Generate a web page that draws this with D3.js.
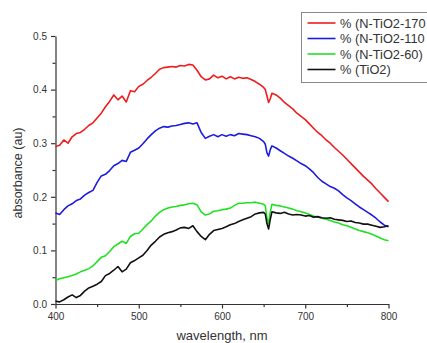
<!DOCTYPE html>
<html>
<head>
<meta charset="utf-8">
<script src="https://cdn.jsdelivr.net/npm/d3@7"></script>
<style>
  body { margin: 0; background: #fff; }
  svg { display: block; font-family: "Liberation Sans", Arial, sans-serif; }
  .axis path, .axis line { stroke: #333; }
  .axis text { fill: #333; font-size: 10px; }
</style>
</head>
<body>
<div id="chart"></div>
<script>
// wavelength grid (nm)
const wavelength = [
  400,405,410,415,420,425,430,435,440,445,450,455,460,465,470,475,480,485,490,495,
  500,505,510,515,520,525,530,535,540,545,550,555,560,565,570,575,580,585,590,595,
  600,605,610,615,620,625,630,635,640,645,650,652,654,656,658,660,
  665,670,675,680,685,690,695,700,705,710,715,720,725,730,735,740,745,750,755,760,
  765,770,775,780,785,790,795,800
];

const nTiO2_170 = [
  0.294,0.296,0.306,0.300,0.312,0.318,0.320,0.326,0.333,0.338,0.347,0.356,0.368,0.378,0.390,0.381,0.388,0.377,0.398,0.396,
  0.406,0.410,0.417,0.423,0.430,0.438,0.441,0.442,0.443,0.442,0.445,0.444,0.447,0.446,0.436,0.424,0.418,0.420,0.427,0.422,
  0.425,0.420,0.424,0.420,0.423,0.421,0.422,0.419,0.415,0.410,0.404,0.400,0.388,0.376,0.383,0.393,
  0.390,0.384,0.376,0.370,0.364,0.356,0.350,0.344,0.336,0.328,0.320,0.314,0.306,0.300,0.292,0.285,0.278,0.270,0.262,0.254,
  0.246,0.238,0.231,0.224,0.215,0.207,0.199,0.191
];

const nTiO2_110 = [
  0.170,0.167,0.176,0.183,0.187,0.193,0.196,0.203,0.208,0.212,0.227,0.239,0.242,0.249,0.258,0.262,0.268,0.266,0.283,0.287,
  0.291,0.299,0.308,0.316,0.323,0.328,0.331,0.330,0.332,0.333,0.335,0.337,0.338,0.336,0.338,0.320,0.309,0.313,0.316,0.312,
  0.316,0.313,0.316,0.314,0.318,0.317,0.316,0.314,0.312,0.309,0.303,0.298,0.282,0.276,0.288,0.295,
  0.291,0.286,0.281,0.276,0.272,0.267,0.262,0.258,0.252,0.245,0.236,0.229,0.224,0.219,0.216,0.211,0.204,0.198,0.193,0.187,
  0.181,0.176,0.171,0.166,0.160,0.153,0.147,0.144
];

const nTiO2_60 = [
  0.044,0.047,0.049,0.051,0.053,0.056,0.060,0.063,0.066,0.071,0.079,0.087,0.090,0.098,0.107,0.112,0.117,0.113,0.126,0.131,
  0.132,0.140,0.148,0.155,0.164,0.171,0.176,0.179,0.181,0.182,0.184,0.185,0.187,0.188,0.185,0.172,0.166,0.168,0.173,0.174,
  0.176,0.177,0.179,0.184,0.188,0.188,0.189,0.189,0.190,0.188,0.186,0.183,0.160,0.150,0.172,0.186,
  0.184,0.183,0.181,0.179,0.177,0.174,0.172,0.170,0.167,0.164,0.162,0.160,0.158,0.156,0.153,0.151,0.148,0.146,0.143,0.140,
  0.137,0.135,0.133,0.130,0.127,0.123,0.120,0.118
];

const tiO2 = [
  0.005,0.004,0.008,0.013,0.017,0.012,0.016,0.024,0.030,0.033,0.037,0.042,0.053,0.057,0.063,0.070,0.060,0.065,0.077,0.081,
  0.086,0.091,0.100,0.110,0.117,0.125,0.130,0.133,0.135,0.138,0.142,0.143,0.141,0.146,0.135,0.126,0.120,0.130,0.137,0.139,
  0.141,0.144,0.148,0.150,0.154,0.157,0.160,0.163,0.168,0.170,0.171,0.168,0.150,0.140,0.158,0.172,
  0.170,0.169,0.171,0.168,0.166,0.167,0.166,0.164,0.165,0.162,0.163,0.161,0.160,0.161,0.158,0.157,0.156,0.154,0.155,0.152,
  0.151,0.149,0.149,0.147,0.145,0.143,0.144,0.146
];

const seriesNames = ["% (N-TiO2-170", "% (N-TiO2-110", "% (N-TiO2-60)", "% (TiO2)"];
const seriesColors = ["#ee1c1c", "#1c1cdd", "#22e022", "#111111"];
const seriesValues = [nTiO2_170, nTiO2_110, nTiO2_60, tiO2];

const xTicks = [400, 500, 600, 700, 800];
const xMinor = [450, 550, 650, 750];
const yTicks = [0, 0.1, 0.2, 0.3, 0.4, 0.5];
const yMinor = [0.05, 0.15, 0.25, 0.35, 0.45];

const width = 427, height = 343;

//create canvas
const svg = d3.select("#chart")
    .append("svg")
    .attr("width", width)
    .attr("height", height);

const x = d3.scaleLinear().domain([400, 800]).range([55.5, 388.5]);
const y = d3.scaleLinear().domain([0, 0.5]).range([304, 36]);

// minor ticks first, so the major axis draws over them
svg.append("g")
    .attr("class", "axis")
    .attr("transform", "translate(0,304)")
    .call(d3.axisBottom(x).tickValues(xMinor).tickSize(3).tickSizeOuter(0).tickFormat(""))
    .call(g => g.select(".domain").remove());

svg.append("g")
    .attr("class", "axis")
    .attr("transform", "translate(55.5,0)")
    .call(d3.axisLeft(y).tickValues(yMinor).tickSize(3).tickSizeOuter(0).tickFormat(""))
    .call(g => g.select(".domain").remove());

svg.append("g")
    .attr("class", "axis")
    .attr("transform", "translate(0,304)")
    .call(d3.axisBottom(x).tickValues(xTicks).tickSize(4.5).tickSizeOuter(0).tickPadding(4));

svg.append("g")
    .attr("class", "axis")
    .attr("transform", "translate(55.5,0)")
    .call(d3.axisLeft(y).tickValues(yTicks).tickSize(4.5).tickSizeOuter(0).tickPadding(4)
        .tickFormat(d3.format(".1f")));

svg.selectAll(".axis path, .axis line").attr("stroke-width", 1.2);

// axis titles
svg.append("text")
    .attr("x", 222)
    .attr("y", 340)
    .attr("text-anchor", "middle")
    .attr("font-size", 13)
    .attr("fill", "#333")
    .text("wavelength, nm");

svg.append("text")
    .attr("transform", "translate(22,173) rotate(-90)")
    .attr("text-anchor", "middle")
    .attr("font-size", 12.5)
    .attr("fill", "#333")
    .text("absorbance (au)");

// curves
const line = d3.line()
    .x((d, i) => x(wavelength[i]))
    .y(d => y(d));

svg.append("g")
    .selectAll("path")
    .data(seriesValues)
    .enter()
    .append("path")
    .attr("d", line)
    .attr("fill", "none")
    .attr("stroke", (d, i) => seriesColors[i])
    .attr("stroke-width", 1.6)
    .attr("stroke-linejoin", "round");

// legend
const legend = svg.append("g").attr("transform", "translate(301.5,12.5)");

legend.append("rect")
    .attr("width", 140)
    .attr("height", 70)
    .attr("fill", "#fff")
    .attr("stroke", "#888")
    .attr("stroke-width", 1);

const items = legend.selectAll("g.item")
    .data(seriesNames)
    .enter()
    .append("g")
    .attr("class", "item")
    .attr("transform", (d, i) => `translate(0,${10.5 + i * 15.5})`);

items.append("line")
    .attr("x1", 6)
    .attr("x2", 34)
    .attr("stroke", (d, i) => seriesColors[i])
    .attr("stroke-width", 1.6);

items.append("text")
    .attr("x", 38.5)
    .attr("y", 4.5)
    .attr("font-size", 12.8)
    .attr("fill", "#333")
    .text(d => d);
</script>
</body>
</html>
